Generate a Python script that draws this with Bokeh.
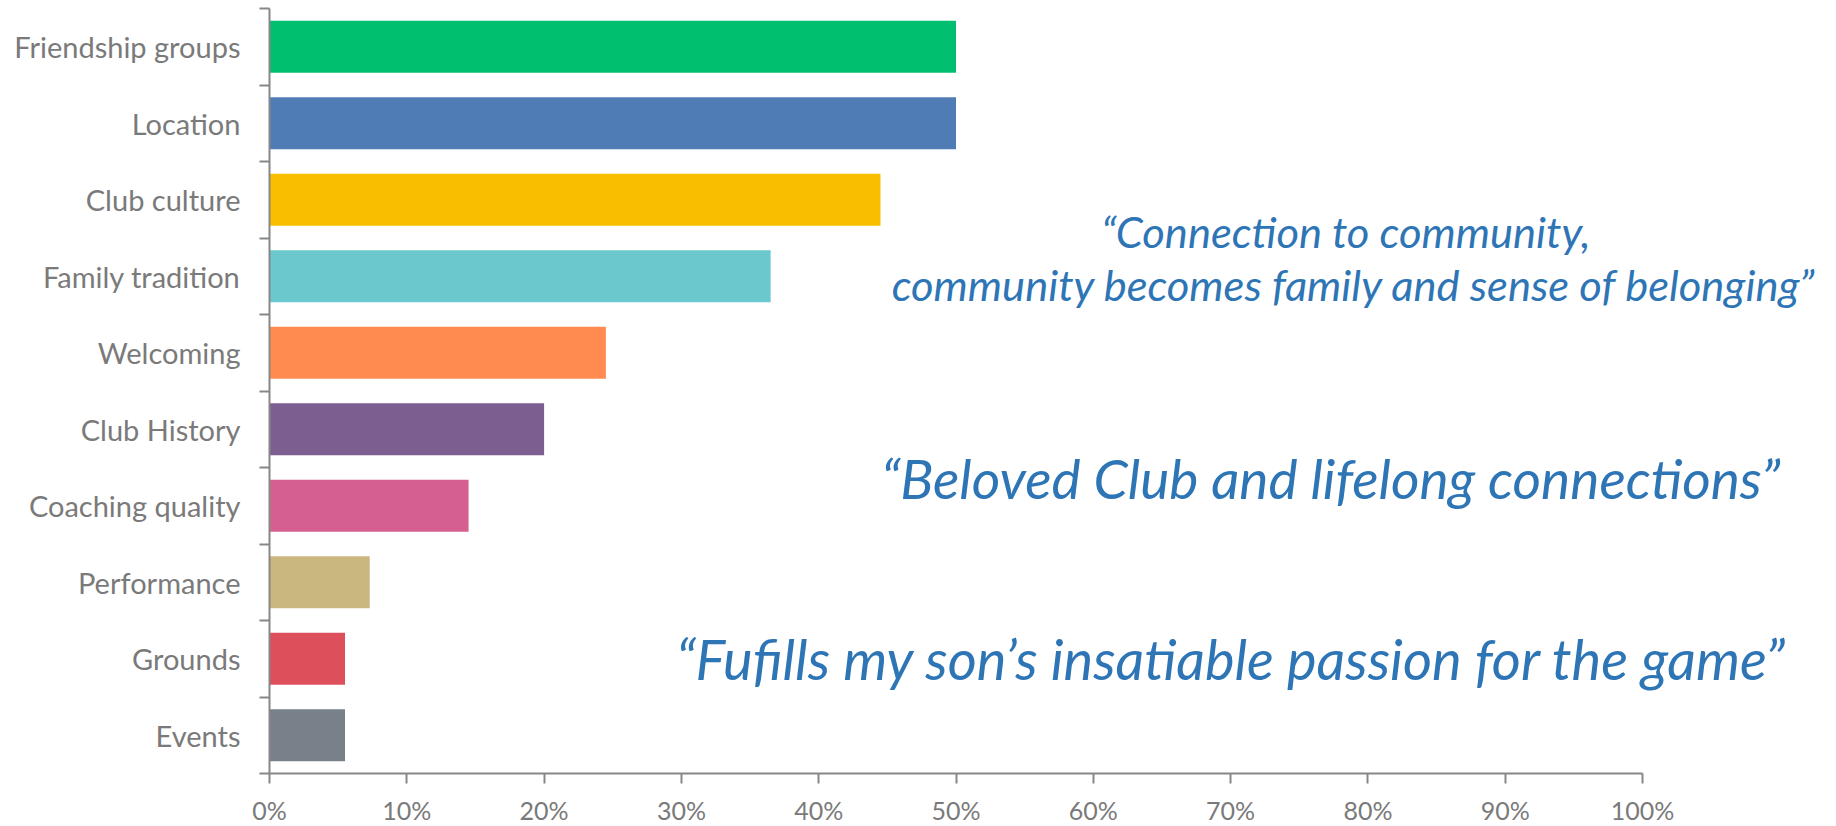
from bokeh.plotting import figure
from bokeh.models import (Range1d, LinearAxis, FixedTicker, CustomJSTickFormatter,
                          NumeralTickFormatter, Label, ColumnDataSource)
from bokeh.embed import file_html
from bokeh.resources import INLINE

categories = ["Friendship groups", "Location", "Club culture", "Family tradition",
              "Welcoming", "Club History", "Coaching quality", "Performance",
              "Grounds", "Events"]
values = [0.50, 0.50, 0.445, 0.365, 0.245, 0.20, 0.145, 0.073, 0.055, 0.055]
colors = ["#00BF6F", "#507CB6", "#F9BE00", "#6BC8CD", "#FF8B50",
          "#7D5E90", "#D5608F", "#C9B77D", "#DC4F5B", "#78808A"]
x_ticks = [0, 0.1, 0.2, 0.3, 0.4, 0.5, 0.6, 0.7, 0.8, 0.9, 1.0]

quotes = [
    "\u201cConnection to community,",
    "community becomes family and sense of belonging\u201d",
    "\u201cBeloved Club and lifelong connections\u201d",
    "\u201cFufills my son\u2019s insatiable passion for the game\u201d",
]

n = len(categories)
ypos = [n - i - 0.5 for i in range(n)]
labels_bottom_up = list(reversed(categories))

# layout (pixels within the figure); the frame covers the whole figure
W, H = 1836, 826
axis_x_px = 269            # column of the value-axis origin
px_per_x = 1373.0          # pixels for 0..100%
axis_top_px = 8            # row of the top of the category axis
axis_y_px = 773            # row of the category axis bottom
px_per_cat = (axis_y_px - axis_top_px) / n
x_start = -axis_x_px / px_per_x
x_end = (W - axis_x_px) / px_per_x
y_start = -(H - axis_y_px) / px_per_cat
y_end = n + axis_top_px / px_per_cat

AXIS_COL = "#878787"
TEXT_COL = "#7a7a7a"
QUOTE_COL = "#2E75B6"
FONT = "Lato"

p = figure(width=W, height=H, output_backend="svg", toolbar_location=None,
           x_range=Range1d(x_start, x_end), y_range=Range1d(y_start, y_end),
           x_axis_location=None, y_axis_location=None,
           min_border_left=0, min_border_right=0,
           min_border_top=0, min_border_bottom=0)
p.outline_line_color = None
p.xgrid.visible = False
p.ygrid.visible = False
p.background_fill_color = "white"
p.border_fill_color = "white"

src = ColumnDataSource(dict(y=ypos, v=values, c=colors, cat=categories))
p.hbar(y="y", left=0, right="v", height=0.68, fill_color="c", line_color=None, source=src)

# left axis: labels at category centres, tick marks at category boundaries
yax = LinearAxis(
    ticker=FixedTicker(ticks=ypos, minor_ticks=list(range(n + 1))),
    formatter=CustomJSTickFormatter(args=dict(labels=labels_bottom_up),
                                    code="const i = Math.round(tick - 0.5); return (i >= 0 && i < labels.length) ? labels[i] : '';"),
    bounds=(0, n), fixed_location=0,
)
yax.axis_line_color = AXIS_COL
yax.axis_line_width = 2
yax.major_tick_line_color = None
yax.major_tick_out = 0
yax.major_tick_in = 0
yax.minor_tick_line_color = AXIS_COL
yax.minor_tick_line_width = 2
yax.minor_tick_out = 10
yax.minor_tick_in = 0
yax.major_label_text_font = FONT
yax.major_label_text_font_size = "29px"
yax.major_label_text_color = TEXT_COL
yax.major_label_standoff = 19
p.add_layout(yax, "left")

xax = LinearAxis(ticker=FixedTicker(ticks=x_ticks, minor_ticks=[]),
                 formatter=NumeralTickFormatter(format="0%"),
                 bounds=(0, 1), fixed_location=0)
xax.axis_line_color = AXIS_COL
xax.axis_line_width = 2
xax.major_tick_line_color = AXIS_COL
xax.major_tick_line_width = 2
xax.major_tick_out = 10
xax.major_tick_in = 0
xax.minor_tick_line_color = None
xax.major_label_text_font = FONT
xax.major_label_text_font_size = "25px"
xax.major_label_text_color = TEXT_COL
xax.major_label_standoff = 11
p.add_layout(xax, "below")

quote_pos = [(0.784, 7.085, 43.5), (0.790, 6.405, 43.5), (0.773, 3.865, 55), (0.701, 1.505, 56)]
for txt, (qx, qy, fs) in zip(quotes, quote_pos):
    p.add_layout(Label(x=qx, y=qy, text=txt, text_align="center", text_baseline="alphabetic",
                       text_font=FONT, text_font_style="italic",
                       text_font_size=f"{fs}px", text_color=QUOTE_COL))

open("out.html", "w").write(file_html(p, INLINE))
